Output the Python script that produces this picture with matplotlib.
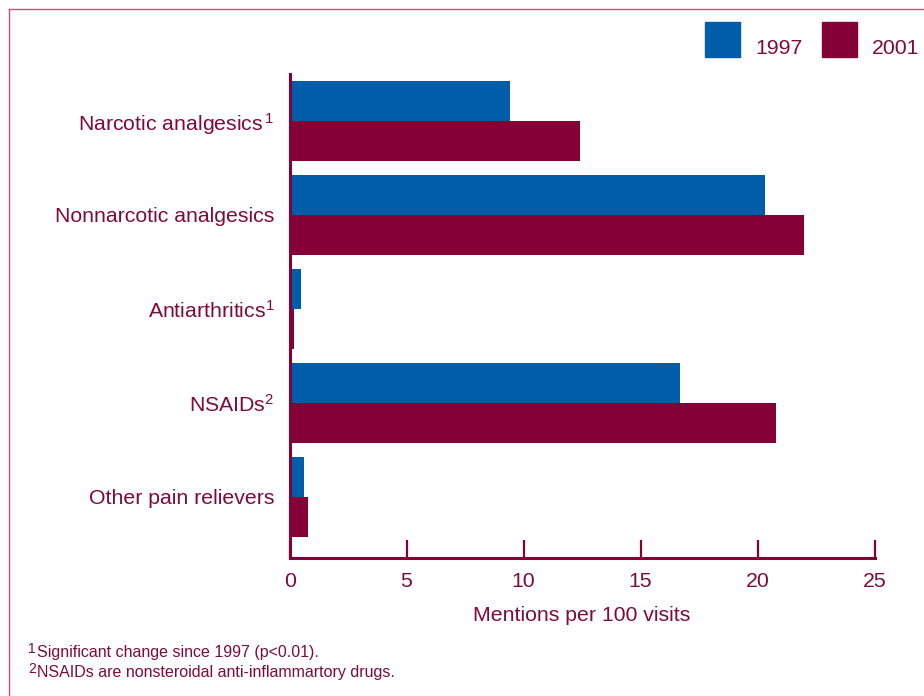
import matplotlib.pyplot as plt
from matplotlib.patches import Rectangle
from matplotlib.lines import Line2D
import numpy as np

plt.rcParams['font.family'] = ['Liberation Sans', 'DejaVu Sans']
plt.rcParams['mathtext.fontset'] = 'custom'
plt.rcParams['mathtext.rm'] = 'Liberation Sans'
plt.rcParams['mathtext.it'] = 'Liberation Sans'

# data
categories = ['Narcotic analgesics$^{\\,1}$', 'Nonnarcotic analgesics', 'Antiarthritics$^{1}$',
              'NSAIDs$^{2}$', 'Other pain relievers']
years = ['1997', '2001']
vals_1997 = [9.4, 20.3, 0.5, 16.7, 0.6]
vals_2001 = [12.4, 22.0, 0.2, 20.8, 0.8]
xticks = [0, 5, 10, 15, 20, 25]
notes = [('1', 'Significant change since 1997 (p<0.01).'),
         ('2', 'NSAIDs are nonsteroidal anti-inflammartory drugs.')]

blue = '#005DAA'
maroon = '#840036'
txt = '#7E0B3C'
border = '#B9577A'

fig = plt.figure(figsize=(9.24, 6.96), dpi=100)
ax = fig.add_axes([289.6 / 924, 1 - 558 / 696, (874.5 - 289.6) / 924, (558 - 74) / 696])

y = np.arange(len(categories))
h = 40 / 94
ax.barh(y - h / 2, vals_1997, height=h, color=blue, label=years[0])
ax.barh(y + h / 2, vals_2001, height=h, color=maroon, label=years[1])

ax.set_xlim(0, 25)
ax.set_ylim(4.65, -0.5)
ax.set_xticks(xticks)
ax.set_xticklabels([str(t) for t in xticks])
ax.set_yticks(y)
ax.set_yticklabels(categories)

for s in ['top', 'right']:
    ax.spines[s].set_visible(False)
for s in ['left', 'bottom']:
    ax.spines[s].set_color(maroon)
    ax.spines[s].set_linewidth(2.2)
ax.tick_params(axis='x', direction='in', length=13, width=1.6, color=maroon,
               labelcolor=txt, labelsize=15.3, pad=10)
ax.tick_params(axis='y', length=0, labelcolor=txt, labelsize=15.3, pad=11)
ax.set_xlabel('Mentions per 100 visits', color=txt, fontsize=15.3, labelpad=11)

# legend
for x0, c, lab in [(705, blue, years[0]), (822, maroon, years[1])]:
    fig.add_artist(Rectangle((x0 / 924, 1 - 57 / 696), 35 / 924, 35 / 696,
                             transform=fig.transFigure, color=c))
    fig.text((x0 + 50) / 924, 1 - 54 / 696, lab, color=txt, fontsize=15.3,
             ha='left', va='baseline')

# footnotes
for i, (sup, note) in enumerate(notes):
    base = 657 + 20 * i
    fig.text(28 / 924, 1 - (base - 4) / 696, sup, color=txt, fontsize=10, va='baseline')
    fig.text(37 / 924, 1 - base / 696, note, color=txt, fontsize=11.5, va='baseline')

# frame around figure (left and top only visible)
fig.add_artist(Line2D([8.5 / 924, 8.5 / 924], [0, 1 - 8.5 / 696], transform=fig.transFigure,
                      color=border, lw=1))
fig.add_artist(Line2D([8.5 / 924, 1], [1 - 8.5 / 696, 1 - 8.5 / 696], transform=fig.transFigure,
                      color=border, lw=1))

fig.savefig('out.png', dpi=100)
